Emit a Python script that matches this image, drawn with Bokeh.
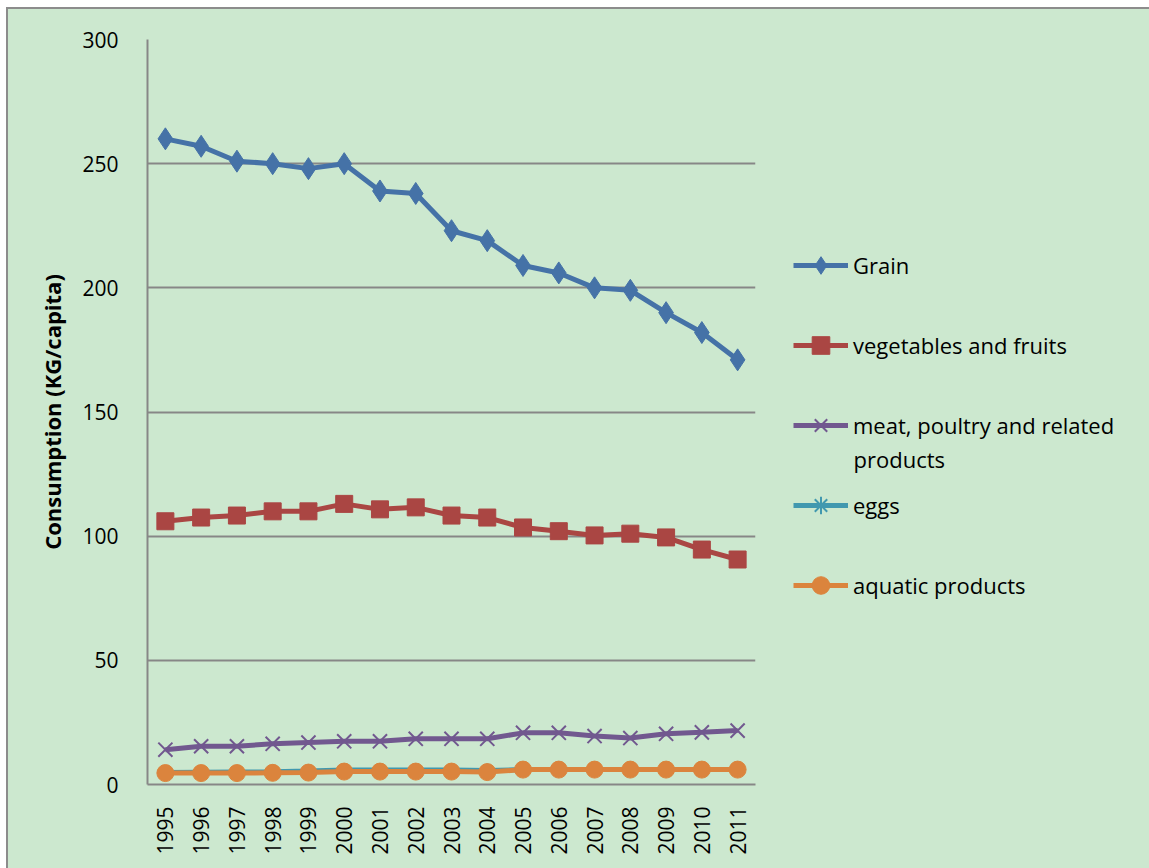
from bokeh.plotting import figure
from bokeh.layouts import row
from bokeh.models import FactorRange, Range1d, Legend, LegendItem, Label, ColumnDataSource
from bokeh.embed import file_html
from bokeh.resources import INLINE

years = ["1995", "1996", "1997", "1998", "1999", "2000", "2001", "2002", "2003",
         "2004", "2005", "2006", "2007", "2008", "2009", "2010", "2011"]
grain = [260, 257, 251, 250, 248, 250, 239, 238, 223, 219, 209, 206, 200, 199, 190, 182, 171]
vegetables = [106, 107.5, 108.3, 110, 110, 113, 110.8, 111.6, 108.3, 107.5, 103.5, 102, 100.3, 101, 99.5, 94.6, 90.6]
meat = [14, 15.4, 15.4, 16.4, 16.9, 17.4, 17.4, 18.4, 18.4, 18.4, 20.8, 20.8, 19.5, 18.7, 20.4, 21, 21.7]
eggs = [4.8, 4.9, 5.0, 5.1, 5.4, 5.8, 5.8, 5.8, 5.8, 5.6, 6.0, 6.0, 6.0, 6.0, 6.0, 6.0, 6.0]
aquatic = [4.6, 4.6, 4.6, 4.7, 4.8, 5.2, 5.2, 5.2, 5.2, 5.0, 6.0, 6.0, 6.0, 6.0, 6.0, 6.0, 6.0]
y_ticks = [0, 50, 100, 150, 200, 250, 300]

series = [
    ("Grain", grain, "#4572A7", "diamond", 22),
    ("vegetables and fruits", vegetables, "#AA4643", "square", 17),
    ("meat, poultry and related", meat, "#71588F", "x", 20),
    ("eggs", eggs, "#4198AF", "asterisk", 14),
    ("aquatic products", aquatic, "#DB843D", "circle", 17),
]

BG = "#CCE8CF"
GRID = "#878787"
FONT = "Open Sans"

p = figure(width=762, height=859, x_range=FactorRange(*years, range_padding=0),
           y_range=(0, 300), output_backend="svg", toolbar_location=None,
           background_fill_color=None, border_fill_color=BG,
           min_border_left=139, min_border_top=30, min_border_right=15, min_border_bottom=84)
p.outline_line_color = None

lg = figure(width=379, height=859, output_backend="svg", toolbar_location=None,
            x_range=FactorRange(*years), y_range=Range1d(0, 300),
            x_axis_location=None, y_axis_location=None, min_border=0,
            background_fill_color=None, border_fill_color=BG)
lg.outline_line_color = None
lg.xgrid.grid_line_color = None
lg.ygrid.grid_line_color = None

items = []
for name, vals, color, marker, size in series:
    src = ColumnDataSource(dict(x=years, y=vals))
    p.line("x", "y", source=src, line_color=color, line_width=5)
    mw = 2 if marker in ("x", "asterisk") else 1
    p.scatter("x", "y", source=src, marker=marker, size=size,
              fill_color=color, line_color=color, line_width=mw)
    # hidden copies that only supply the legend samples
    k1 = lg.line("x", "y", source=src, line_color=color, line_width=5, visible=False)
    k2 = lg.scatter("x", "y", source=src, marker=marker, size=size, fill_color=color,
                    line_color=color, line_width=mw, visible=False)
    items.append(LegendItem(label=name, renderers=[k1, k2]))

legend = Legend(items=items, location=(23, 177), padding=0, margin=0,
                spacing=36, glyph_width=55, glyph_height=44, label_height=44,
                label_standoff=5, label_text_font=FONT, label_text_font_size="22px",
                label_text_color="#000000", background_fill_alpha=0,
                border_line_color=None, click_policy="none")
lg.add_layout(legend, "center")
lg.add_layout(Label(x=83, y=326, x_units="screen", y_units="screen", text="products",
                    text_font=FONT, text_font_size="22px", text_baseline="middle",
                    text_color="#000000"))

p.yaxis.ticker = y_ticks
p.ygrid.grid_line_color = GRID
p.ygrid.grid_line_width = 2
p.xgrid.grid_line_color = None

for ax in (p.xaxis, p.yaxis):
    ax.axis_line_color = GRID
    ax.axis_line_width = 2
    ax.major_tick_line_color = None
    ax.minor_tick_line_color = None
    ax.major_label_text_font = FONT
    ax.major_label_text_font_size = "21px"
    ax.major_label_text_color = "#000000"

p.yaxis.major_label_standoff = 23
p.yaxis.axis_label = "Consumption (KG/capita)"
p.yaxis.axis_label_text_font = FONT
p.yaxis.axis_label_text_font_style = "bold"
p.yaxis.axis_label_text_font_size = "22px"
p.yaxis.axis_label_standoff = 12
p.yaxis.axis_label_text_color = "#000000"

p.xaxis.major_label_orientation = 1.5707963
p.xaxis.major_label_standoff = 16

layout = row(p, lg, spacing=0, margin=(7, 0, 0, 6),
             styles={"border-top": "2px solid #8c8c8c", "border-left": "2px solid #8c8c8c",
                     "background-color": BG})

open("out.html", "w").write(file_html(layout, INLINE))
